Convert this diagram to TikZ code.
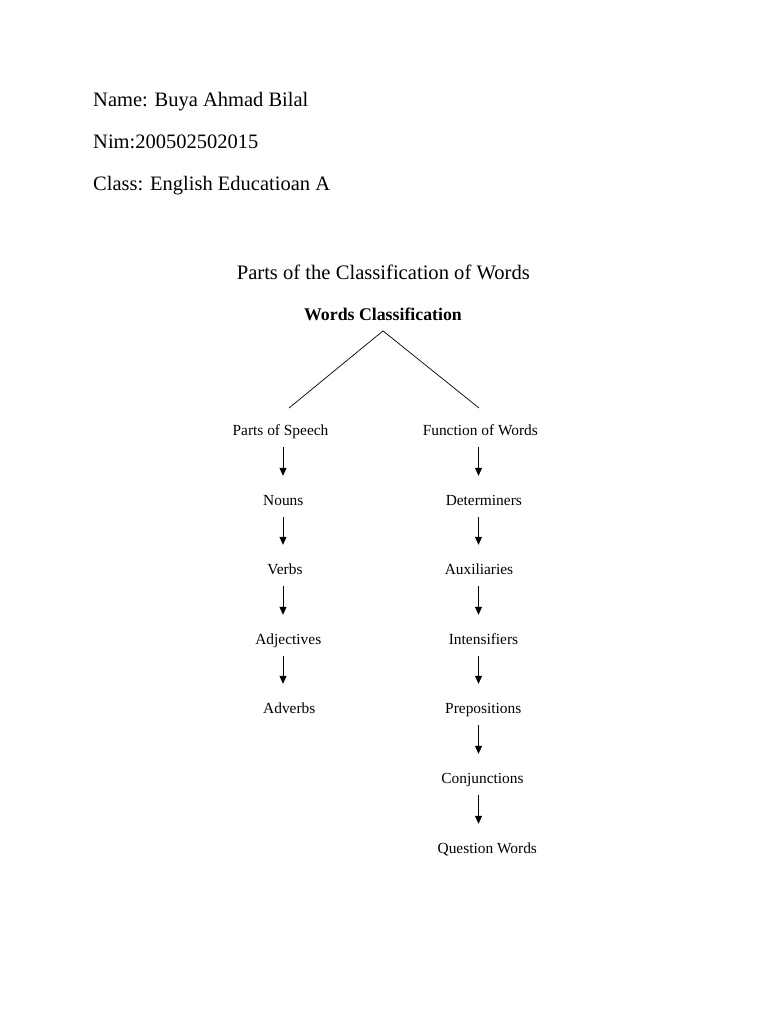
\documentclass[tikz,border=0pt]{standalone}
\usepackage{fontspec}
\setmainfont{Liberation Serif}
\usetikzlibrary{arrows.meta}
\begin{document}
\begin{tikzpicture}[x=1pt,y=-1pt,
  head/.style={anchor=base west,inner sep=0pt,font=\fontsize{20.5}{24}\selectfont},
  ttl/.style={anchor=base,inner sep=0pt,font=\fontsize{20.6}{24}\selectfont},
  wcs/.style={anchor=base,inner sep=0pt,text depth=10pt,font=\fontsize{17.8}{21}\selectfont\bfseries},
  lbl/.style={anchor=base,inner sep=0pt,text height=29pt,text depth=12pt,font=\fontsize{15.4}{18}\selectfont},
  arr/.style={-{Triangle[length=8pt,width=7pt]},line width=0.8pt},
  tree/.style={line width=0.7pt}]
\useasboundingbox (0,0) rectangle (768,1024);
\fill[white] (0,0) rectangle (768,1024);
% header
\node[head] (name) at (93,107) {Name: Buya Ahmad Bilal};
\node[head] (nim) at (93,149) {Nim:200502502015};
\node[head] (class) at (93,191) {Class: English Educatioan A};
% title
\node[ttl] (title) at (383.3,279) {Parts of the Classification of Words};
\node[wcs] (wc) at (383,320.7) {Words Classification};
% column guides
\coordinate (colL) at (283,0);
\coordinate (colR) at (478.5,0);
\coordinate (lend) at (289,408);
\coordinate (rend) at (479,408);
\draw[tree] (lend) -- (wc.south) -- (rend);
% left column
\node[lbl] (ps) at (280.5,435) {Parts of Speech};
\node[lbl] (nouns) at (283.3,505) {Nouns};
\node[lbl] (verbs) at (285,574) {Verbs};
\node[lbl] (adj) at (288.3,644) {Adjectives};
\node[lbl] (adv) at (289.3,713) {Adverbs};
% right column
\node[lbl] (fw) at (480.3,435) {Function of Words};
\node[lbl] (det) at (483.8,505) {Determiners};
\node[lbl] (aux) at (479,574) {Auxiliaries};
\node[lbl] (int) at (483.5,644) {Intensifiers};
\node[lbl] (prep) at (483.3,713) {Prepositions};
\node[lbl] (conj) at (482.5,783) {Conjunctions};
\node[lbl] (qw) at (487.3,853) {Question Words};
% arrows
\draw[arr] (ps.south -| colL) -- (nouns.north -| colL);
\draw[arr] (nouns.south -| colL) -- (verbs.north -| colL);
\draw[arr] (verbs.south -| colL) -- (adj.north -| colL);
\draw[arr] (adj.south -| colL) -- (adv.north -| colL);
\draw[arr] (fw.south -| colR) -- (det.north -| colR);
\draw[arr] (det.south -| colR) -- (aux.north -| colR);
\draw[arr] (aux.south -| colR) -- (int.north -| colR);
\draw[arr] (int.south -| colR) -- (prep.north -| colR);
\draw[arr] (prep.south -| colR) -- (conj.north -| colR);
\draw[arr] (conj.south -| colR) -- (qw.north -| colR);
\end{tikzpicture}
\end{document}
